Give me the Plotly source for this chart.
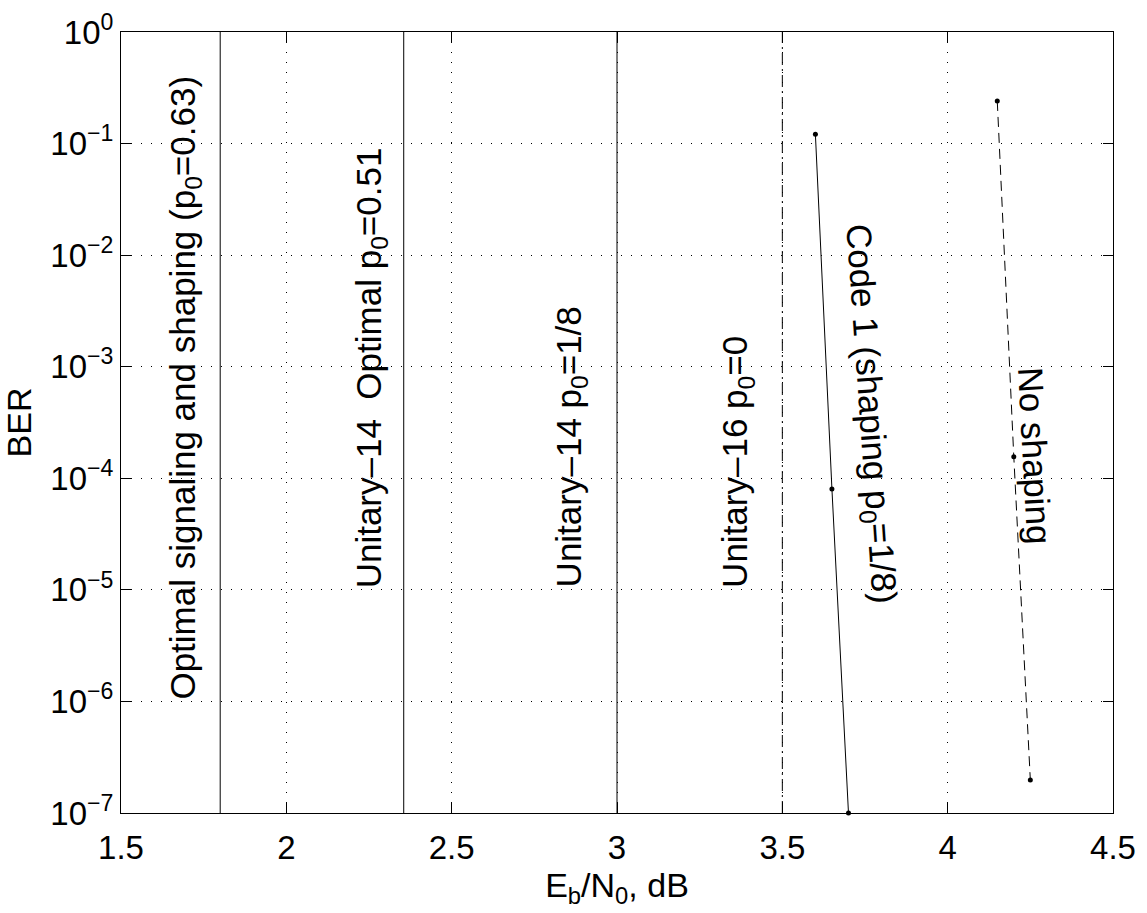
import plotly.graph_objects as go

# ---- data ----
code1_x = [3.6, 3.65, 3.7]
code1_ber = [0.121, 8.0e-5, 1.0e-7]
noshape_x = [4.15, 4.2, 4.25]
noshape_ber = [0.241, 1.56e-4, 1.98e-7]

# vertical threshold lines (Eb/N0 limits, dB)
limit_x = [1.8, 2.355, 3.0, 3.5]
limit_dash = ["solid", "solid", "solid", "12px,4px,2px,4px"]
limit_labels = [
    "Optimal signaling and shaping (p<sub>0</sub>=0.63)",
    "Unitary–14  Optimal p<sub>0</sub>=0.51",
    "Unitary–14 p<sub>0</sub>=1/8",
    "Unitary–16 p<sub>0</sub>=0",
]
limit_label_x = [1.694, 2.256, 2.861, 3.363]
limit_label_logy = [-6, -5, -5, -5]

curve_labels = ["Code 1 (shaping p<sub>0</sub>=1/8)", "No shaping"]
curve_label_x = [3.765, 4.263]
curve_label_logy = [-3.42, -3.80]
curve_label_angle = [86, 87]

x_ticks = [1.5, 2, 2.5, 3, 3.5, 4, 4.5]
y_exps = [-7, -6, -5, -4, -3, -2, -1, 0]

FONT = "Liberation Sans, Arial, Helvetica, sans-serif"
FS_TICK = 33
FS_TITLE = 34
FS_ANN = 35

fig = go.Figure()

for xv, d in zip(limit_x, limit_dash):
    fig.add_trace(go.Scatter(
        x=[xv, xv], y=[1e-7, 1.0], mode="lines",
        line=dict(color="black", width=1, dash=d),
        showlegend=False, hoverinfo="skip"))

fig.add_trace(go.Scatter(
    x=code1_x, y=code1_ber, mode="lines+markers",
    line=dict(color="black", width=1),
    marker=dict(color="black", size=5),
    showlegend=False, cliponaxis=False))

fig.add_trace(go.Scatter(
    x=noshape_x, y=noshape_ber, mode="lines+markers",
    line=dict(color="black", width=1, dash="10px,6px"),
    marker=dict(color="black", size=5),
    showlegend=False, cliponaxis=False))

for t, xv, ly in zip(limit_labels, limit_label_x, limit_label_logy):
    fig.add_annotation(
        x=xv, y=ly, xref="x", yref="y", text=t, textangle=-90,
        showarrow=False, xanchor="center", yanchor="bottom",
        font=dict(family=FONT, size=FS_ANN, color="black"))

for t, xv, ly, ang in zip(curve_labels, curve_label_x, curve_label_logy, curve_label_angle):
    fig.add_annotation(
        x=xv, y=ly, xref="x", yref="y", text=t, textangle=ang,
        showarrow=False, xanchor="center", yanchor="middle",
        font=dict(family=FONT, size=FS_ANN, color="black"))

axis_common = dict(
    showline=True, linecolor="black", linewidth=1, mirror="ticks",
    ticks="inside", ticklen=10, tickcolor="black", tickwidth=1,
    showgrid=True, gridcolor="black", gridwidth=1, griddash="1px,9px",
    zeroline=False,
    tickfont=dict(family=FONT, size=FS_TICK, color="black"),
)

fig.update_xaxes(
    range=[1.5, 4.5], tickvals=x_ticks, ticktext=[f"{v:g}" for v in x_ticks],
    ticklabelstandoff=5,
    title=dict(text="E<sub>b</sub>/N<sub>0</sub>, dB",
               font=dict(family=FONT, size=FS_TITLE, color="black"), standoff=2),
    **axis_common)

fig.update_yaxes(
    type="log", range=[-7, 0],
    tickvals=[10.0 ** e for e in y_exps],
    ticktext=[f"10<sup>{'−' if e < 0 else ''}{abs(e)}</sup>" for e in y_exps],
    title=dict(text="BER", font=dict(family=FONT, size=FS_TITLE, color="black"), standoff=8),
    **axis_common)

fig.update_layout(
    width=1147, height=913,
    margin=dict(l=121, r=34, t=32, b=100, autoexpand=False),
    paper_bgcolor="white", plot_bgcolor="white",
    font=dict(family=FONT, size=FS_TICK, color="black"),
)

fig.write_html("out.html")
